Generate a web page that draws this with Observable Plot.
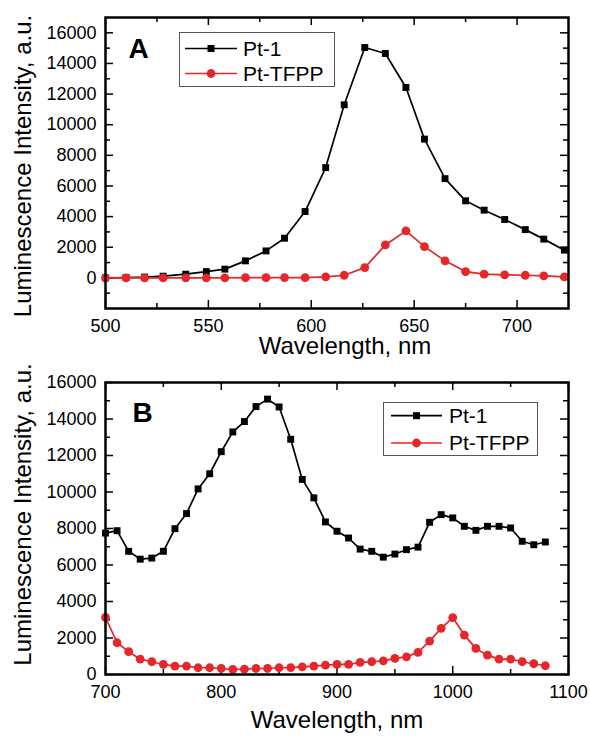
<!DOCTYPE html>
<html>
<head>
<meta charset="utf-8">
<script src="https://cdn.jsdelivr.net/npm/d3@7"></script>
<script src="https://cdn.jsdelivr.net/npm/@observablehq/plot@0.6"></script>
<style>
  body { margin: 0; background: #fff; font-family: "Liberation Sans", Arial, sans-serif; }
  #wrap { position: relative; width: 590px; height: 738px; overflow: hidden; background: #fff; }
  .panel { position: absolute; left: 0; }
  .panel svg { overflow: visible; }
  .legend { position: absolute; }
</style>
</head>
<body>
<div id="wrap">
  <div id="pa" class="panel" style="top:0px"></div>
  <div id="pb" class="panel" style="top:370px"></div>
</div>
<script>
// ---------- Panel A data ----------
const wlA   = [500, 510, 519, 528, 539, 549, 558, 568, 578, 587, 597, 607, 616, 626, 636, 646, 655, 665, 675, 684, 694, 704, 713, 723];
const pt1A  = [0, 20, 50, 110, 240, 410, 570, 1110, 1760, 2590, 4330, 7200, 11300, 15040, 14650, 12430, 9060, 6480, 5030, 4420, 3810, 3150, 2530, 1810];
const tfppA = [0, 0, 0, 0, 0, 0, 0, 10, 10, 20, 20, 60, 170, 670, 2150, 3070, 2040, 1110, 410, 240, 200, 170, 130, 60];

// ---------- Panel B data ----------
const wlB   = [700, 710, 720, 730, 740, 750, 760, 770, 780, 790, 800, 810, 820, 830, 840, 850, 860, 870, 880, 890, 900, 910, 920, 930, 940, 950, 960, 970, 980, 990, 1000, 1010, 1020, 1030, 1040, 1050, 1060, 1070, 1080];
const pt1B  = [7750, 7880, 6750, 6320, 6380, 6750, 7990, 8820, 10170, 11000, 12210, 13290, 13860, 14680, 15090, 14660, 12890, 10690, 9680, 8360, 7850, 7480, 6870, 6750, 6430, 6600, 6840, 6980, 8340, 8760, 8580, 8120, 7900, 8120, 8120, 8030, 7300, 7110, 7260];
const tfppB = [3130, 1740, 1250, 840, 700, 550, 460, 460, 370, 370, 330, 275, 290, 330, 330, 370, 380, 420, 460, 510, 550, 550, 660, 700, 750, 880, 970, 1210, 1830, 2530, 3120, 2160, 1430, 1060, 840, 840, 700, 590, 480];

// ---------- ticks ----------
const xTicksA = [500, 550, 600, 650, 700];
const xMinorA = [525, 575, 625, 675];
const yTicksA = [0, 2000, 4000, 6000, 8000, 10000, 12000, 14000, 16000];
const yMinorA = [-1000, 1000, 3000, 5000, 7000, 9000, 11000, 13000, 15000];
const xTicksB = [700, 800, 900, 1000, 1100];
const xMinorB = [750, 850, 950, 1050];
const yTicksB = [0, 2000, 4000, 6000, 8000, 10000, 12000, 14000, 16000];
const yMinorB = [1000, 3000, 5000, 7000, 9000, 11000, 13000, 15000];

const seriesNames = ["Pt-1", "Pt-TFPP"];
const xTitle = "Wavelength, nm";
const yTitle = "Luminescence Intensity, a.u.";

const BLACK = "#000";
const RED = "#e5262a";
const FONT = "Liberation Sans, Arial, sans-serif";

function makePanel(o) {
  const W = 590, mL = 105, mR = 22;
  const innerW = W - mL - mR;
  const innerH = o.height - o.marginTop - o.marginBottom;
  const r1 = o.wl.map((w, i) => ({w, v: o.s1[i]}));
  const r2 = o.wl.map((w, i) => ({w, v: o.s2[i]}));
  const tk = (arr, len, side, axis) => {
    const opt = axis === "x" ? {x: d => d} : {y: d => d};
    opt.stroke = BLACK; opt.strokeWidth = 1.5;
    if (side === "bottom") opt.insetTop = innerH - len;
    if (side === "top") opt.insetBottom = innerH - len;
    if (side === "left") opt.insetRight = innerW - len;
    if (side === "right") opt.insetLeft = innerW - len;
    return axis === "x" ? Plot.tickX(arr, opt) : Plot.tickY(arr, opt);
  };
  return Plot.plot({
    width: W, height: o.height,
    marginLeft: mL, marginRight: mR, marginTop: o.marginTop, marginBottom: o.marginBottom,
    style: {fontFamily: FONT, color: "#000", overflow: "visible"},
    x: {domain: o.xDomain, type: "linear"},
    y: {domain: o.yDomain, type: "linear"},
    marks: [
      Plot.axisX(o.xTicks, {tickSize: 0, tickPadding: o.xPad, fontSize: 18, label: null, tickFormat: d => String(d)}),
      Plot.axisY(o.yTicks, {tickSize: 0, tickPadding: 9, fontSize: 18, label: null, tickFormat: d => String(d)}),
      tk(o.xTicks, 8, "bottom", "x"), tk(o.xTicks, 8, "top", "x"),
      tk(o.xMinor, 5, "bottom", "x"), tk(o.xMinor, 5, "top", "x"),
      tk(o.yTicks, 8, "left", "y"), tk(o.yTicks, 8, "right", "y"),
      tk(o.yMinor, 5, "left", "y"), tk(o.yMinor, 5, "right", "y"),
      Plot.line(r1, {x: "w", y: "v", stroke: BLACK, strokeWidth: 1.7}),
      Plot.dot(r1, {x: "w", y: "v", symbol: "square", r: 3.9, fill: BLACK, stroke: null}),
      Plot.line(r2, {x: "w", y: "v", stroke: RED, strokeWidth: 1.7}),
      Plot.dot(r2, {x: "w", y: "v", symbol: "circle", r: 4.4, fill: RED, stroke: null}),
      Plot.frame({stroke: BLACK, strokeWidth: 2.5}),
      Plot.text([o.letter], {text: d => d, frameAnchor: "top-left", textAnchor: "start", lineAnchor: "top",
        dx: o.letterDx, dy: o.letterDy, fontSize: 28, fontWeight: "bold", fill: BLACK}),
      Plot.text([xTitle], {text: d => d, frameAnchor: "bottom", dx: o.xtDx, dy: o.xtDy, fontSize: 24, fill: BLACK}),
      Plot.text([yTitle], {text: d => d, frameAnchor: "left", rotate: -90, textAnchor: "middle",
        dx: -82, dy: o.ytDy, fontSize: 24, fill: BLACK})
    ]
  });
}

function legend(left, top, w, h, rowY, lineX1, lineX2, textX) {
  const ns = "http://www.w3.org/2000/svg";
  const svg = document.createElementNS(ns, "svg");
  svg.setAttribute("width", w); svg.setAttribute("height", h);
  svg.setAttribute("class", "legend");
  svg.style.left = left + "px"; svg.style.top = top + "px";
  svg.style.fontFamily = FONT;
  const rect = document.createElementNS(ns, "rect");
  rect.setAttribute("x", 0.5); rect.setAttribute("y", 0.5);
  rect.setAttribute("width", w - 1); rect.setAttribute("height", h - 1);
  rect.setAttribute("fill", "#fff"); rect.setAttribute("stroke", "#555"); rect.setAttribute("stroke-width", 1);
  svg.appendChild(rect);
  const colors = [BLACK, RED];
  seriesNames.forEach((name, i) => {
    const y = rowY[i];
    const ln = document.createElementNS(ns, "line");
    ln.setAttribute("x1", lineX1); ln.setAttribute("x2", lineX2);
    ln.setAttribute("y1", y); ln.setAttribute("y2", y);
    ln.setAttribute("stroke", colors[i]); ln.setAttribute("stroke-width", 1.7);
    svg.appendChild(ln);
    const cx = (lineX1 + lineX2) / 2;
    let m;
    if (i === 0) {
      m = document.createElementNS(ns, "rect");
      m.setAttribute("x", cx - 3.5); m.setAttribute("y", y - 3.5);
      m.setAttribute("width", 7); m.setAttribute("height", 7);
    } else {
      m = document.createElementNS(ns, "circle");
      m.setAttribute("cx", cx); m.setAttribute("cy", y); m.setAttribute("r", 4.4);
    }
    m.setAttribute("fill", colors[i]);
    svg.appendChild(m);
    const t = document.createElementNS(ns, "text");
    t.setAttribute("x", textX); t.setAttribute("y", y + 7.3);
    t.setAttribute("font-size", 21); t.setAttribute("fill", "#000");
    t.textContent = name;
    svg.appendChild(t);
  });
  return svg;
}

const pa = makePanel({
  wl: wlA, s1: pt1A, s2: tfppA, xDomain: [500, 725], yDomain: [-2000, 17000],
  xTicks: xTicksA, xMinor: xMinorA, yTicks: yTicksA, yMinor: yMinorA,
  height: 370, marginTop: 17, marginBottom: 62, xPad: 11,
  letter: "A", letterDx: 23, letterDy: 21, xtDx: 8, xtDy: 45, ytDy: 3
});
document.getElementById("pa").appendChild(pa);
document.getElementById("pa").appendChild(legend(179, 32, 156, 55, [16.5, 41.5], 6, 58, 64));

const pb = makePanel({
  wl: wlB, s1: pt1B, s2: tfppB, xDomain: [700, 1100], yDomain: [0, 16000],
  xTicks: xTicksB, xMinor: xMinorB, yTicks: yTicksB, yMinor: yMinorB,
  height: 368, marginTop: 12, marginBottom: 64, xPad: 11,
  letter: "B", letterDx: 27, letterDy: 20, xtDx: 0, xtDy: 53, ytDy: -14
});
document.getElementById("pb").appendChild(pb);
document.getElementById("pb").appendChild(legend(383, 32, 155, 54, [13.7, 41], 8, 59, 66));
</script>
</body>
</html>
